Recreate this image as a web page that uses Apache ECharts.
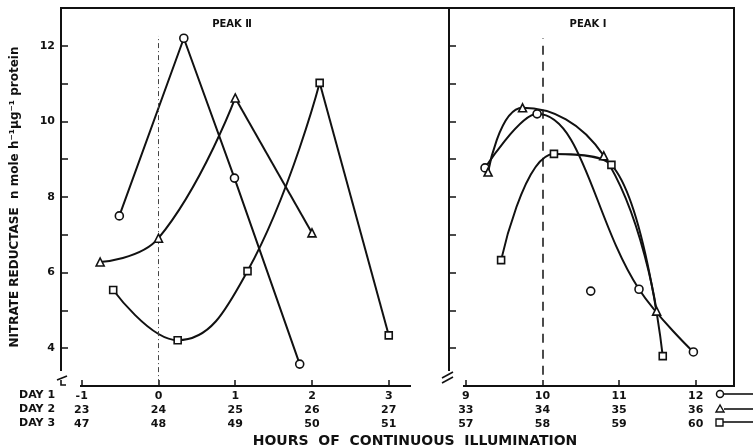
<!DOCTYPE html>
<html><head><meta charset="utf-8">
<script src="https://cdn.jsdelivr.net/npm/echarts@6/dist/echarts.min.js"></script>
<style>html,body{margin:0;padding:0;background:#fff}#c{width:753px;height:448px}</style>
</head><body><div id="c"></div>
<script>
// ---- PEAK II (left panel), x = hours ----
const p2Day1X = [-0.51, 0.33, 0.99, 1.84];
const p2Day1Y = [7.5, 12.2, 8.5, 3.58];
const p2Day2X = [-0.76, 0.0, 1.0, 2.0];
const p2Day2Y = [6.28, 6.91, 10.62, 7.05];
const p2Day3X = [-0.59, 0.25, 1.16, 2.10, 3.0];
const p2Day3Y = [5.54, 4.21, 6.04, 11.02, 4.34];
// ---- PEAK I (right panel) ----
const p1Day1X = [9.25, 9.93, 11.26, 11.97];
const p1Day1Y = [8.77, 10.2, 5.56, 3.9];
const p1Day1LoneX = [10.63];
const p1Day1LoneY = [5.51];
const p1Day2X = [9.29, 9.74, 10.8, 11.49];
const p1Day2Y = [8.66, 10.36, 9.09, 4.98];
const p1Day3X = [9.46, 10.15, 10.9, 11.57];
const p1Day3Y = [6.33, 9.14, 8.85, 3.79];
// ---- tick labels ----
const leftDay1Ticks = [-1, 0, 1, 2, 3];
const leftDay2Ticks = [23, 24, 25, 26, 27];
const leftDay3Ticks = [47, 48, 49, 50, 51];
const rightDay1Ticks = [9, 10, 11, 12];
const rightDay2Ticks = [33, 34, 35, 36];
const rightDay3Ticks = [57, 58, 59, 60];
const yTickValues = [4, 5, 6, 7, 8, 9, 10, 11, 12];
const yLabelValues = [4, 6, 8, 10, 12];

const zip = (xs, ys) => xs.map((x, i) => [x, ys[i]]);
const FONT = 'DejaVu Sans';
const INK = '#111';

function xFormatter(d1, d2, d3) {
  return v => { const i = d1.indexOf(Math.round(v)); return i < 0 ? '' : [d1[i], d2[i], d3[i]].join('\n'); };
}
function xAxis(idx, min, max, d1, d2, d3) {
  return {
    type: 'value', gridIndex: idx, min, max, position: 'bottom',
    splitLine: { show: false },
    axisLine: { show: true, onZero: false, lineStyle: { color: INK, width: 2 } },
    axisTick: { show: true, inside: true, length: 6, lineStyle: { color: INK, width: 1.5 }, customValues: d1 },
    axisLabel: { customValues: d1, formatter: xFormatter(d1, d2, d3), margin: 3, fontFamily: FONT, fontSize: 11, fontWeight: 'bold', color: INK, lineHeight: 14, showMinLabel: true, showMaxLabel: true }
  };
}
function yAxis(idx, showLabels) {
  const a = {
    type: 'value', gridIndex: idx, min: 3, max: 13,
    splitLine: { show: false },
    axisLine: { show: true, onZero: false, lineStyle: { color: INK, width: 2 } },
    axisTick: { show: true, inside: true, length: 7, lineStyle: { color: INK, width: 1.5 }, customValues: yTickValues },
    axisLabel: { show: showLabels, customValues: yLabelValues, margin: 6, fontFamily: FONT, fontSize: 11, fontWeight: 'bold', color: INK }
  };
  if (showLabels) {
    a.name = 'NITRATE REDUCTASE  n mole h\u207B\u00B9\u00B5g\u207B\u00B9 protein';
    a.nameLocation = 'middle'; a.nameGap = 40; a.nameRotate = 90;
    a.nameTextStyle = { fontFamily: FONT, fontSize: 12, fontWeight: 'bold', color: INK };
  }
  return a;
}
function curve(xi, data, smooth) {
  return { type: 'line', xAxisIndex: xi, yAxisIndex: xi, data, smooth, symbol: 'none', z: 2,
    lineStyle: { color: INK, width: 2 }, silent: true, animation: false };
}
function marks(xi, data, symbol, size) {
  return { type: 'scatter', xAxisIndex: xi, yAxisIndex: xi, data, symbol, symbolSize: size, z: 5,
    itemStyle: { color: '#fff', borderColor: INK, borderWidth: 1.6, opacity: 1 }, silent: true, animation: false };
}

const d2L = zip(p2Day2X, p2Day2Y), d3L = zip(p2Day3X, p2Day3Y);
const series = [
  // left panel
  Object.assign(curve(0, zip(p2Day1X, p2Day1Y), false), {
    markLine: { silent: true, symbol: 'none', label: { show: false },
      lineStyle: { color: '#444', width: 1, type: [5, 3, 1, 3] },
      data: [[{ coord: [0, 3.05] }, { coord: [0, 12.26] }]] }
  }),
  curve(0, d2L.slice(0, 3), 0.45),
  curve(0, d2L.slice(2), false),
  curve(0, d3L.slice(0, 4), 0.45),
  curve(0, d3L.slice(3), false),
  marks(0, zip(p2Day1X, p2Day1Y), 'circle', 8),
  marks(0, d2L, 'triangle', 8),
  marks(0, d3L, 'rect', 7),
  // right panel
  Object.assign(curve(1, zip(p1Day1X, p1Day1Y), 0.4), {
    markLine: { silent: true, symbol: 'none', label: { show: false },
      lineStyle: { color: INK, width: 1.5, type: [9, 7] },
      data: [[{ coord: [10, 3.3] }, { coord: [10, 12.2] }]] }
  }),
  curve(1, zip(p1Day2X, p1Day2Y), 0.45),
  curve(1, zip(p1Day3X, p1Day3Y), 0.4),
  marks(1, zip(p1Day1X, p1Day1Y), 'circle', 8),
  marks(1, zip(p1Day1LoneX, p1Day1LoneY), 'circle', 8),
  marks(1, zip(p1Day2X, p1Day2Y), 'triangle', 8),
  marks(1, zip(p1Day3X, p1Day3Y), 'rect', 7)
];

const txt = (x, y, text, size, align, extra) => Object.assign({ type: 'text', x, y, z: 100,
  style: { text, fontFamily: FONT, fontSize: size, fontWeight: 'bold', fill: INK, align: align || 'center', verticalAlign: 'middle' } }, extra || {});
const seg = (pts, w) => ({ type: 'polyline', z: 101, shape: { points: pts }, style: { stroke: INK, lineWidth: w || 1.6, fill: null } });
const cover = (x, y, w, h) => ({ type: 'rect', z: 99, shape: { x, y, width: w, height: h }, style: { fill: '#fff' } });

const chart = echarts.init(document.getElementById('c'), null, { renderer: 'canvas' });
chart.setOption({
  animation: false,
  backgroundColor: '#fff',
  grid: [
    { left: 61, top: 8, width: 388, height: 378, show: true, borderColor: INK, borderWidth: 2, backgroundColor: 'transparent' },
    { left: 449, top: 8, width: 285, height: 378, show: true, borderColor: INK, borderWidth: 2, backgroundColor: 'transparent' }
  ],
  xAxis: [
    xAxis(0, -1.27, 3.785, leftDay1Ticks, leftDay2Ticks, leftDay3Ticks),
    xAxis(1, 8.78, 12.5, rightDay1Ticks, rightDay2Ticks, rightDay3Ticks)
  ],
  yAxis: [yAxis(0, true), yAxis(1, false)],
  series,
  graphic: [
    txt(232, 24, 'PEAK \u2161', 10),
    txt(588, 24, 'PEAK I', 10),
    txt(415, 441, 'HOURS  OF  CONTINUOUS  ILLUMINATION', 14),
    { type: 'text', x: 19, y: 388, z: 100, style: { text: 'DAY 1\nDAY 2\nDAY 3', fontFamily: FONT, fontSize: 11, fontWeight: 'bold', fill: INK, lineHeight: 14, align: 'left', verticalAlign: 'top' } },
    // axis breaks
    cover(56, 371, 12, 19), cover(56, 382, 24, 8),
    cover(411, 382, 52, 8), cover(444, 371, 10, 19),
    seg([[57, 380], [67, 376]]), seg([[61, 380], [61, 385], [66, 385]]),
    seg([[442, 378], [453, 372]]), seg([[442, 383], [453, 377]]),
    // legend keys
    { type: 'circle', z: 101, shape: { cx: 720, cy: 394, r: 3.5 }, style: { fill: '#fff', stroke: INK, lineWidth: 1.5 } },
    seg([[724, 394], [753, 394]], 1.6),
    { type: 'polygon', z: 101, shape: { points: [[720, 405], [716, 412], [724, 412]] }, style: { fill: '#fff', stroke: INK, lineWidth: 1.4 } },
    seg([[724, 409], [753, 409]], 1.6),
    { type: 'rect', z: 101, shape: { x: 716, y: 419, width: 7, height: 7 }, style: { fill: '#fff', stroke: INK, lineWidth: 1.4 } },
    seg([[723, 422], [753, 422]], 1.6)
  ]
});
</script></body></html>
